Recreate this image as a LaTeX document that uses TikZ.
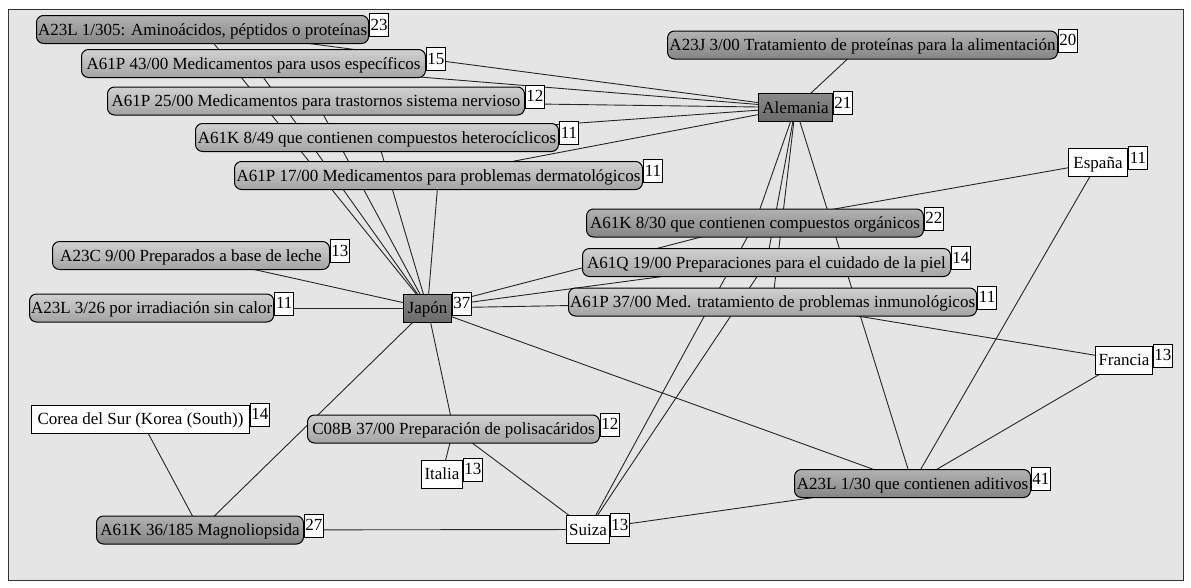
\documentclass[tikz,border=0pt]{standalone}
\usepackage{fontspec}
\setmainfont{Liberation Serif}
\pgfdeclarelayer{bg}
\pgfsetlayers{bg,main}
\tikzset{
  base/.style={font=\fontsize{17}{20}\selectfont, text height=14pt, text depth=3pt,
    inner xsep=1.5pt, inner ysep=0pt, minimum height=28pt, line width=1pt, draw=black, anchor=west},
  code/.style={base, rounded corners=7pt, top color=black!18, bottom color=black!36},
  codedark/.style={base, rounded corners=7pt, top color=black!30, bottom color=black!48},
  ctrydark/.style={base, top color=black!46, bottom color=black!58},
  ctry/.style={base, fill=white},
  num/.style={font=\fontsize{17}{20}\selectfont, text height=13pt, text depth=2pt, draw=black, fill=white,
    line width=0.9pt, minimum width=19pt, minimum height=23pt, inner sep=0pt, anchor=north west},
  edge/.style={line width=0.9pt, black!85},
  frame/.style={draw=black!80, line width=1pt, fill=black!10}
}
\begin{document}
\begin{tikzpicture}[x=1pt,y=-1pt]
\useasboundingbox (0,0) rectangle (1191,587);
% code nodes
\node[codedark, minimum width=331pt] (l1305) at (36,29.5) {A23L 1/305: Aminoácidos, péptidos o proteínas};
\node[code, minimum width=344pt] (p4300) at (81,63.5) {A61P 43/00 Medicamentos para usos específicos};
\node[code, minimum width=417pt] (p2500) at (107,101) {A61P 25/00 Medicamentos para trastornos sistema nervioso};
\node[code, minimum width=363pt] (k849) at (195,137.5) {A61K 8/49 que contienen compuestos heterocíclicos};
\node[code, minimum width=408pt] (p1700) at (234,175.5) {A61P 17/00 Medicamentos para problemas dermatológicos};
\node[codedark, minimum width=390pt] (j300) at (667,45) {A23J 3/00 Tratamiento de proteínas para la alimentación};
\node[codedark, minimum width=337pt] (k830) at (586,223) {A61K 8/30 que contienen compuestos orgánicos};
\node[code, minimum width=368pt] (q1900) at (582,262.5) {A61Q 19/00 Preparaciones para el cuidado de la piel};
\node[code, minimum width=407pt] (p3700) at (568,302) {A61P 37/00 Med. tratamiento de problemas inmunológicos};
\node[code, minimum width=277pt] (c900) at (52,255.5) {A23C 9/00 Preparados a base de leche};
\node[code, minimum width=243pt] (l326) at (29,308) {A23L 3/26 por irradiación sin calor};
\node[code, minimum width=292pt] (c08b) at (307,429) {C08B 37/00 Preparación de polisacáridos};
\node[codedark, minimum width=236pt] (l130) at (794,483.5) {A23L 1/30 que contienen aditivos};
\node[codedark, minimum width=207pt] (k36185) at (96,530) {A61K 36/185 Magnoliopsida};
% country nodes
\node[ctrydark, minimum width=48pt] (jp) at (403,308) {Japón};
\node[ctrydark, minimum width=74pt] (al) at (758,107.5) {Alemania};
\node[ctry, minimum width=59pt] (es) at (1068,162.5) {España};
\node[ctry, minimum width=57pt] (fr) at (1095,360) {Francia};
\node[ctry, minimum width=218pt] (ko) at (31,419) {Corea del Sur (Korea (South))};
\node[ctry, minimum width=41pt] (it) at (421,474) {Italia};
\node[ctry, minimum width=43pt] (su) at (566,529.5) {Suiza};
% count boxes
\foreach \n/\c in {l1305/23,p4300/15,p2500/12,k849/11,p1700/11,j300/20,k830/22,q1900/14,p3700/11,
  c900/13,l326/11,c08b/12,l130/41,k36185/27,jp/37,al/21,es/11,fr/13,ko/14,it/13,su/13}
  \node[num] (\n-n) at ([yshift=2pt]\n.north east) {\c};
% frame and connectors
\begin{pgfonlayer}{bg}
  \draw[frame] (8,9) rectangle (1183,580);
  \foreach \a/\b in {jp/l1305,jp/p4300,jp/p2500,jp/k849,jp/p1700,jp/c900,jp/l326,jp/k830,jp/q1900,
     jp/p3700,jp/l130,jp/c08b,jp/k36185,
     al/j300,al/l1305,al/p4300,al/p2500,al/k849,al/p1700,al/k830,al/q1900,al/p3700,al/l130,
     es/k830,es/l130,fr/p3700,fr/l130,
     su/k830,su/q1900,su/c08b,su/k36185,su/l130,it/c08b,ko/k36185}
    \draw[edge] (\a.center) -- (\b.center);
\end{pgfonlayer}
\end{tikzpicture}
\end{document}
